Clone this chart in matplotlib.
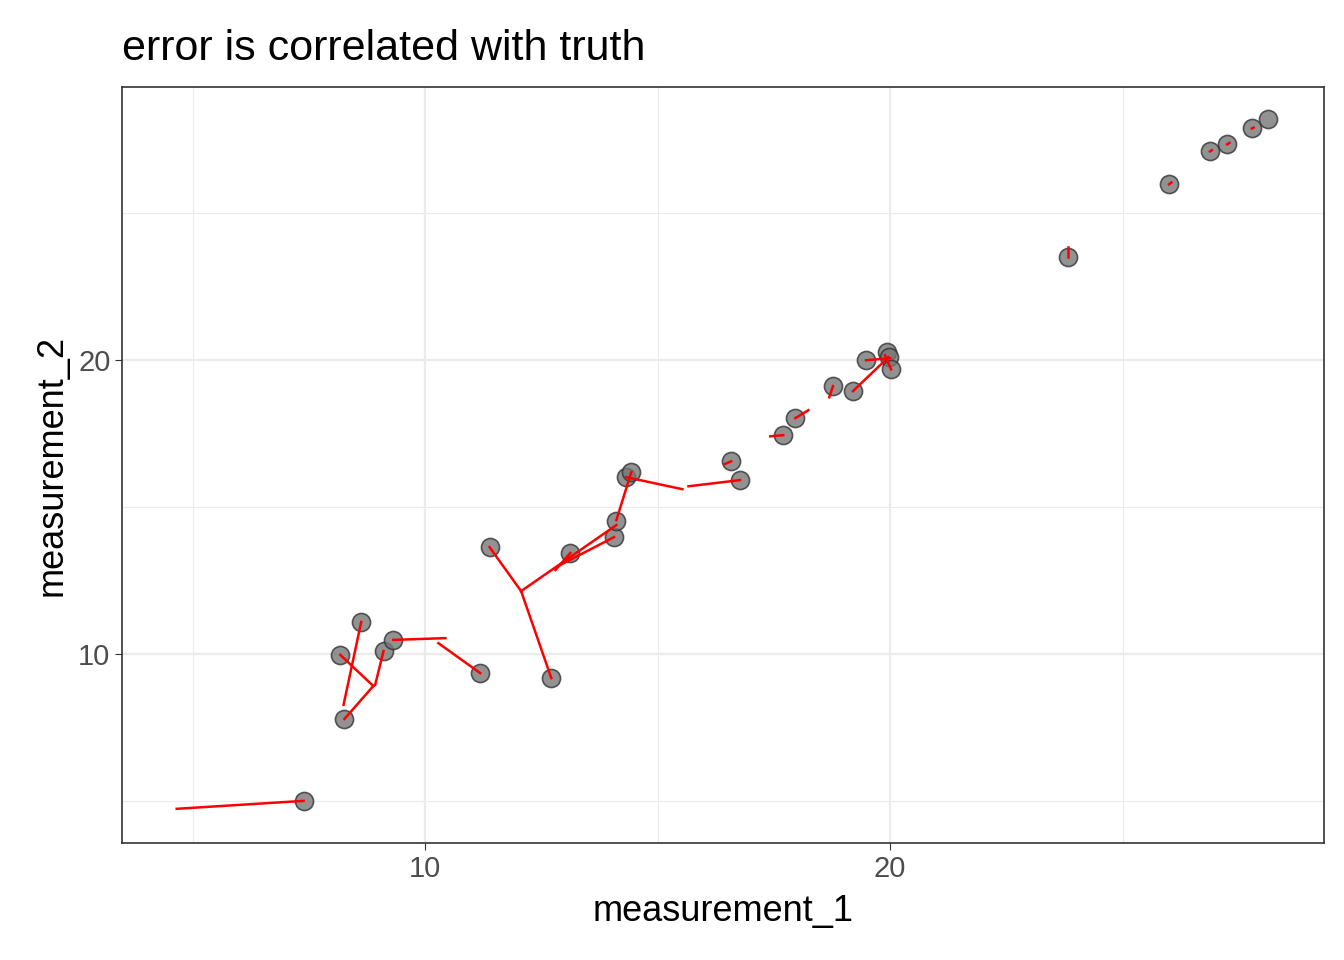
import matplotlib
matplotlib.use("Agg")
import matplotlib.pyplot as plt
plt.rcParams['font.family'] = ['Liberation Sans', 'DejaVu Sans']

px = [7.38,8.17,8.62,9.10,9.31,8.26,11.18,12.71,11.38,13.12,14.06,14.11,14.32,14.43,16.58,16.77,17.70,17.96,18.77,19.20,19.48,19.94,19.98,20.02,23.83,26.0,26.88,27.25,27.78,28.13]
py = [5.0,9.97,11.09,10.10,10.48,7.79,9.35,9.18,13.64,13.44,13.98,14.52,16.02,16.19,16.56,15.92,17.45,18.03,19.12,18.95,20.0,20.27,20.10,19.69,23.50,25.99,27.11,27.35,27.89,28.20]

seg_x0 = [7.38,8.26,8.17,8.62,9.10,9.31,11.18,12.71,11.38,12.06,13.12,14.06,14.32,14.43,16.77,16.58,17.70,17.96,18.77,19.20,19.48,20.02,23.83,26.0,26.88,27.25,27.78]
seg_y0 = [5.0,7.79,9.97,11.09,10.10,10.48,9.35,9.18,13.64,12.14,13.44,13.98,16.02,16.19,15.92,16.56,17.45,18.03,19.12,18.95,20.0,19.69,23.50,25.99,27.11,27.35,27.89]
seg_x1 = [4.65,8.88,8.88,8.24,8.92,10.43,10.28,12.06,12.06,14.11,12.80,12.90,15.53,14.11,15.66,16.43,17.42,18.24,18.69,19.96,20.0,19.89,23.83,26.05,26.92,27.3,27.82]
seg_y1 = [4.73,8.91,8.91,8.27,8.95,10.54,10.37,12.14,12.14,14.39,12.86,13.03,15.61,14.56,15.71,16.46,17.41,18.30,18.74,20.10,20.07,20.17,23.85,26.05,27.15,27.40,27.92]

fig, ax = plt.subplots(figsize=(13.44, 9.6), dpi=100)
fig.subplots_adjust(left=0.091, right=0.985, top=0.909, bottom=0.122)
ax.scatter(px, py, s=170, color="#777777", alpha=0.8, edgecolors="#333333", linewidths=1.2, zorder=2)
for a, b, c, d in zip(seg_x0, seg_y0, seg_x1, seg_y1):
    ax.plot([a, c], [b, d], color="red", lw=1.8, zorder=3)

ax.set_xlim(3.48, 29.33)
ax.set_ylim(3.57, 29.29)
ax.set_xticks([10, 20])
ax.set_yticks([10, 20])
ax.set_xticks([5, 15, 25], minor=True)
ax.set_yticks([5, 15, 25], minor=True)
ax.grid(True, which="major", color="#EBEBEB", lw=1.6)
ax.grid(True, which="minor", color="#EBEBEB", lw=0.8)
ax.set_axisbelow(True)
ax.tick_params(which="minor", length=0)
ax.tick_params(which="major", length=5, color="#333333", labelsize=21, labelcolor="#4D4D4D")
for s in ax.spines.values():
    s.set_color("#333333"); s.set_linewidth(1.2)
ax.set_xlabel("measurement_1", fontsize=26, labelpad=8)
ax.set_ylabel("measurement_2", fontsize=26, labelpad=6)
ax.set_title("error is correlated with truth", fontsize=31, loc="left", x=-0.0, pad=20)
fig.savefig("out.png")
